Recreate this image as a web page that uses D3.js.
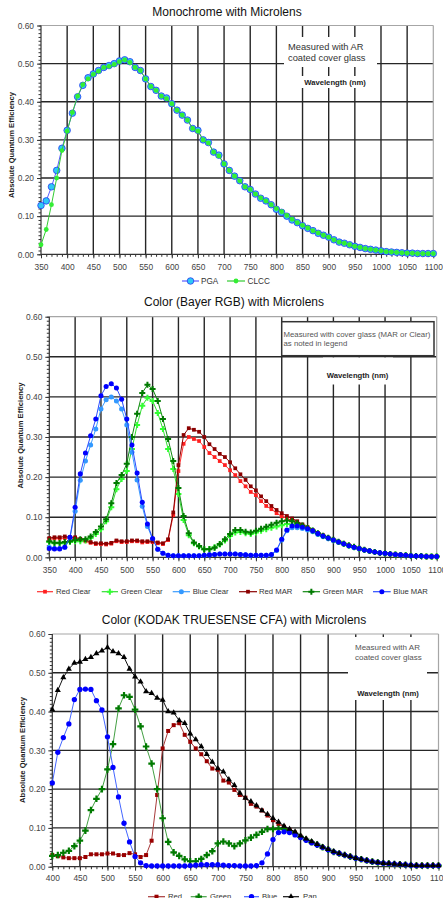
<!DOCTYPE html>
<meta charset="utf-8">
<script src="https://d3js.org/d3.v7.min.js"></script>
<style>
  body { margin: 0; background: #fff; }
  svg { display: block; font-family: "Liberation Sans", Arial, sans-serif; }
</style>
<body>
<div id="chart"></div>
<script>

// ---------- data ----------
// wavelength sampling (nm)
var monoWl = d3.range(350, 1101, 10);
var bayerWl = d3.range(350, 1101, 10);
var kodakWl = d3.range(400, 1101, 10);

var yTickValues = [0, 0.1, 0.2, 0.3, 0.4, 0.5, 0.6];

// Monochrome with Microlens
var pga = [
  0.128,0.140,0.177,0.220,0.278,0.325,0.370,0.413,0.443,0.463,
  0.473,0.482,0.490,0.495,0.500,0.507,0.510,0.505,0.490,0.482,
  0.460,0.440,0.430,0.415,0.410,0.395,0.378,0.365,0.352,0.330,
  0.325,0.300,0.293,0.268,0.260,0.237,0.220,0.205,0.193,0.177,
  0.170,0.158,0.147,0.140,0.130,0.118,0.110,0.100,0.090,0.083,
  0.075,0.068,0.062,0.055,0.050,0.045,0.038,0.032,0.029,0.025,
  0.021,0.018,0.015,0.013,0.011,0.009,0.007,0.006,0.005,0.004,
  0.003,0.003,0.002,0.002,0.002,0.002];
var clcc = [
  0.025,0.065,0.130,0.200,0.272,0.323,0.372,0.415,0.445,0.460,
  0.472,0.480,0.490,0.493,0.498,0.505,0.510,0.503,0.490,0.482,
  0.460,0.440,0.430,0.415,0.408,0.395,0.378,0.365,0.352,0.330,
  0.323,0.300,0.292,0.268,0.258,0.237,0.220,0.205,0.193,0.177,
  0.170,0.158,0.148,0.140,0.130,0.120,0.112,0.102,0.092,0.083,
  0.076,0.069,0.062,0.056,0.050,0.045,0.038,0.032,0.029,0.025,
  0.021,0.018,0.015,0.013,0.011,0.009,0.007,0.006,0.005,0.004,
  0.003,0.003,0.002,0.002,0.002,0.002];

// Color (Bayer RGB) with Microlens
var redClear = [
  0.045,0.047,0.047,0.048,0.047,0.047,0.043,0.040,0.036,0.033,
  0.033,0.032,0.034,0.040,0.038,0.038,0.040,0.040,0.037,0.038,
  0.038,0.035,0.033,0.043,0.105,0.215,0.283,0.300,0.295,0.290,
  0.275,0.260,0.250,0.240,0.230,0.217,0.205,0.190,0.177,0.163,
  0.155,0.140,0.128,0.120,0.110,0.102,0.097,0.092,0.086,0.080,
  0.073,0.066,0.059,0.053,0.048,0.043,0.038,0.034,0.029,0.025,
  0.022,0.018,0.016,0.013,0.011,0.010,0.008,0.007,0.006,0.005,
  0.004,0.003,0.003,0.002,0.002,0.002];
var greenClear = [
  0.038,0.035,0.035,0.035,0.038,0.040,0.040,0.042,0.048,0.058,
  0.070,0.090,0.125,0.170,0.195,0.215,0.270,0.330,0.378,0.398,
  0.390,0.360,0.320,0.270,0.220,0.158,0.093,0.055,0.035,0.027,
  0.020,0.021,0.025,0.032,0.042,0.053,0.062,0.063,0.060,0.058,
  0.062,0.066,0.070,0.074,0.077,0.080,0.083,0.082,0.080,0.076,
  0.072,0.066,0.059,0.053,0.048,0.043,0.038,0.034,0.029,0.025,
  0.022,0.018,0.016,0.013,0.011,0.010,0.008,0.007,0.006,0.005,
  0.004,0.003,0.003,0.002,0.002,0.002];
var blueClear = [
  0.025,0.022,0.022,0.025,0.048,0.115,0.192,0.240,0.280,0.320,
  0.370,0.393,0.400,0.390,0.370,0.330,0.262,0.193,0.127,0.077,
  0.045,0.020,0.010,0.005,0.004,0.004,0.004,0.004,0.004,0.004,
  0.005,0.006,0.007,0.008,0.008,0.008,0.008,0.007,0.006,0.005,
  0.005,0.005,0.005,0.006,0.017,0.043,0.066,0.074,0.074,0.072,
  0.068,0.064,0.057,0.051,0.046,0.041,0.037,0.033,0.028,0.024,
  0.021,0.018,0.015,0.013,0.011,0.009,0.008,0.007,0.006,0.005,
  0.004,0.003,0.003,0.002,0.002,0.002];
var redMAR = [
  0.048,0.050,0.050,0.052,0.050,0.050,0.046,0.043,0.038,0.035,
  0.035,0.034,0.036,0.042,0.040,0.040,0.042,0.042,0.040,0.040,
  0.040,0.037,0.035,0.045,0.112,0.230,0.305,0.322,0.318,0.313,
  0.300,0.282,0.270,0.258,0.250,0.237,0.222,0.207,0.193,0.177,
  0.167,0.152,0.140,0.128,0.118,0.110,0.103,0.097,0.090,0.082,
  0.075,0.068,0.061,0.055,0.049,0.044,0.039,0.034,0.030,0.026,
  0.022,0.019,0.016,0.013,0.011,0.010,0.008,0.007,0.006,0.005,
  0.004,0.003,0.003,0.002,0.002,0.002];
var greenMAR = [
  0.040,0.036,0.036,0.038,0.040,0.043,0.045,0.045,0.052,0.063,
  0.077,0.095,0.135,0.185,0.205,0.233,0.300,0.358,0.410,0.430,
  0.420,0.390,0.345,0.295,0.240,0.173,0.103,0.060,0.037,0.028,
  0.020,0.020,0.024,0.033,0.045,0.058,0.068,0.068,0.064,0.062,
  0.066,0.071,0.076,0.081,0.086,0.090,0.092,0.090,0.085,0.079,
  0.073,0.067,0.060,0.054,0.049,0.044,0.039,0.034,0.030,0.026,
  0.022,0.019,0.016,0.013,0.011,0.010,0.008,0.007,0.006,0.005,
  0.004,0.003,0.003,0.002,0.002,0.002];
var blueMAR = [
  0.022,0.021,0.021,0.025,0.050,0.125,0.208,0.260,0.303,0.345,
  0.403,0.426,0.433,0.422,0.394,0.345,0.280,0.210,0.137,0.083,
  0.047,0.020,0.010,0.005,0.004,0.004,0.004,0.004,0.004,0.004,
  0.005,0.006,0.007,0.008,0.008,0.008,0.008,0.007,0.006,0.005,
  0.005,0.005,0.005,0.007,0.018,0.045,0.068,0.078,0.078,0.075,
  0.071,0.066,0.059,0.053,0.048,0.043,0.038,0.034,0.029,0.025,
  0.022,0.018,0.016,0.013,0.011,0.010,0.008,0.007,0.006,0.005,
  0.004,0.003,0.003,0.002,0.002,0.002];

// Color (KODAK TRUESENSE CFA) with Microlens
var kRed = [
  0.030,0.027,0.024,0.022,0.022,0.022,0.025,0.032,0.032,0.032,
  0.034,0.034,0.030,0.030,0.035,0.032,0.025,0.030,0.067,0.185,
  0.305,0.350,0.365,0.370,0.340,0.322,0.305,0.290,0.272,0.253,
  0.250,0.222,0.217,0.198,0.185,0.178,0.162,0.155,0.145,0.132,
  0.120,0.110,0.103,0.095,0.088,0.078,0.070,0.063,0.057,0.050,
  0.044,0.038,0.034,0.030,0.026,0.022,0.019,0.016,0.013,0.011,
  0.009,0.008,0.007,0.006,0.005,0.004,0.003,0.003,0.003,0.003,
  0.003];
var kGreen = [
  0.028,0.030,0.036,0.041,0.053,0.067,0.093,0.146,0.175,0.200,
  0.251,0.316,0.408,0.442,0.438,0.405,0.362,0.310,0.266,0.200,
  0.125,0.064,0.037,0.028,0.019,0.014,0.014,0.020,0.030,0.040,
  0.060,0.065,0.060,0.053,0.060,0.068,0.075,0.082,0.090,0.097,
  0.097,0.098,0.097,0.092,0.085,0.077,0.070,0.063,0.057,0.050,
  0.044,0.038,0.034,0.030,0.026,0.022,0.019,0.016,0.013,0.011,
  0.009,0.008,0.007,0.006,0.005,0.004,0.003,0.003,0.003,0.003,
  0.003];
var kBlue = [
  0.216,0.295,0.333,0.368,0.431,0.457,0.458,0.457,0.428,0.404,
  0.335,0.256,0.180,0.112,0.064,0.026,0.010,0.003,0.002,0.002,
  0.002,0.002,0.002,0.002,0.002,0.003,0.004,0.005,0.005,0.005,
  0.005,0.004,0.003,0.003,0.002,0.002,0.002,0.003,0.010,0.033,
  0.070,0.088,0.090,0.088,0.082,0.075,0.068,0.062,0.056,0.050,
  0.044,0.038,0.034,0.030,0.026,0.022,0.019,0.016,0.013,0.011,
  0.009,0.008,0.007,0.006,0.005,0.004,0.003,0.003,0.003,0.003,
  0.003];
var kPan = [
  0.405,0.455,0.488,0.510,0.525,0.528,0.535,0.540,0.550,0.557,
  0.565,0.555,0.550,0.540,0.510,0.490,0.477,0.452,0.447,0.435,
  0.430,0.400,0.397,0.377,0.370,0.343,0.328,0.310,0.290,0.270,
  0.253,0.245,0.225,0.210,0.190,0.177,0.168,0.158,0.145,0.135,
  0.125,0.115,0.105,0.097,0.090,0.080,0.072,0.065,0.058,0.051,
  0.045,0.039,0.034,0.030,0.026,0.022,0.019,0.016,0.013,0.011,
  0.009,0.008,0.007,0.006,0.005,0.004,0.003,0.003,0.003,0.003,
  0.003];

// ---------- drawing ----------
var svg = d3.select("#chart").append("svg")
  .attr("width", 443)
  .attr("height", 898);

function drawPanel(p) {
  var x = d3.scaleLinear().domain(p.xDomain).range([p.left, p.right]);
  var y = d3.scaleLinear().domain([0, 0.6]).range([p.bottom, p.top]);
  var g = svg.append("g");

  // title
  g.append("text")
    .attr("x", p.titleX).attr("y", p.titleY)
    .attr("text-anchor", "middle")
    .attr("font-size", 12)
    .attr("fill", "#111")
    .text(p.title);

  // y axis title
  g.append("text")
    .attr("transform", "translate(" + p.yTitleX + "," + p.yTitleY + ") rotate(-90)")
    .attr("text-anchor", "middle")
    .attr("dy", "0.35em")
    .attr("font-size", 7.6)
    .attr("font-weight", "bold")
    .attr("fill", "#222")
    .text("Absolute Quantum Efficiency");

  // grid lines
  g.append("g").selectAll("line")
    .data(p.xTicks.slice(1, -1))
    .join("line")
      .attr("x1", function(d) { return x(d); })
      .attr("x2", function(d) { return x(d); })
      .attr("y1", p.top).attr("y2", p.bottom)
      .attr("stroke", "#262626").attr("stroke-width", 1.4);
  g.append("g").selectAll("line")
    .data(yTickValues.slice(1, -1))
    .join("line")
      .attr("x1", p.left).attr("x2", p.right)
      .attr("y1", function(d) { return y(d); })
      .attr("y2", function(d) { return y(d); })
      .attr("stroke", "#262626").attr("stroke-width", 1.4);

  // frame (top / right light, left / bottom dark)
  g.append("line").attr("x1", p.left).attr("x2", p.right).attr("y1", p.top).attr("y2", p.top)
    .attr("stroke", "#a6a6a6").attr("stroke-width", 1.2);
  g.append("line").attr("x1", p.right).attr("x2", p.right).attr("y1", p.top).attr("y2", p.bottom)
    .attr("stroke", "#a6a6a6").attr("stroke-width", 1.2);

  // note boxes (white, covering the grid)
  p.boxes.forEach(function(b) {
    g.append("rect")
      .attr("x", b.x).attr("y", b.y).attr("width", b.w).attr("height", b.h)
      .attr("fill", "#fff")
      .attr("stroke", b.stroke || "none")
      .attr("stroke-width", 1.5);
  });
  p.notes.forEach(function(n) {
    g.append("text")
      .attr("x", n.x).attr("y", n.y)
      .attr("text-anchor", n.anchor || "start")
      .attr("font-size", n.size)
      .attr("font-weight", n.bold ? "bold" : "normal")
      .attr("fill", n.fill || "#333")
      .text(n.text);
  });

  // axes
  var xa = g.append("g")
    .attr("transform", "translate(0," + p.bottom + ")")
    .call(d3.axisBottom(x).tickValues(p.xTicks).tickSize(4).tickPadding(p.xPad).tickFormat(d3.format("d")));
  xa.attr("font-size", 8.4).attr("font-family", null);
  xa.select(".domain").remove();
  xa.selectAll("line").attr("stroke", "#333");
  xa.selectAll("text").attr("fill", "#444");

  var xm = g.append("g")
    .attr("transform", "translate(0," + p.bottom + ")")
    .call(d3.axisBottom(x).tickValues(p.xMinor).tickSize(2.5).tickFormat(""));
  xm.select(".domain").remove();
  xm.selectAll("line").attr("stroke", "#333");

  var ya = g.append("g")
    .attr("transform", "translate(" + p.left + ",0)")
    .call(d3.axisLeft(y).tickValues(yTickValues).tickSize(4).tickPadding(3).tickFormat(d3.format(".2f")));
  ya.attr("font-size", 8.4).attr("font-family", null);
  ya.select(".domain").remove();
  ya.selectAll("line").attr("stroke", "#333");
  ya.selectAll("text").attr("fill", "#444");

  var ym = g.append("g")
    .attr("transform", "translate(" + p.left + ",0)")
    .call(d3.axisLeft(y).tickValues(d3.range(0, 0.6001, 0.01)).tickSize(2.5).tickFormat(""));
  ym.select(".domain").remove();
  ym.selectAll("line").attr("stroke", "#333");

  g.append("line").attr("x1", p.left).attr("x2", p.right).attr("y1", p.bottom).attr("y2", p.bottom)
    .attr("stroke", "#333").attr("stroke-width", 1.2);
  g.append("line").attr("x1", p.left).attr("x2", p.left).attr("y1", p.top).attr("y2", p.bottom)
    .attr("stroke", "#333").attr("stroke-width", 1.2);

  // series
  var line = d3.line()
    .x(function(d) { return x(d[0]); })
    .y(function(d) { return y(d[1]); });

  p.series.forEach(function(s) {
    var pts = s.values.map(function(v, i) { return [p.wl[i], v]; });
    g.append("path")
      .datum(pts)
      .attr("fill", "none")
      .attr("stroke", s.line)
      .attr("stroke-width", 1)
      .attr("d", line);
    g.append("g").selectAll("path")
      .data(pts)
      .join("path")
        .attr("transform", function(d) { return "translate(" + x(d[0]) + "," + y(d[1]) + ")"; })
        .attr("d", d3.symbol().type(s.symbol).size(s.size))
        .attr("fill", s.fill)
        .attr("stroke", s.stroke || "none")
        .attr("stroke-width", 0.8);
  });

  // legend
  p.legend.forEach(function(l) {
    var s = p.series[l.i];
    g.append("line")
      .attr("x1", l.x1).attr("x2", l.x2).attr("y1", p.legendY).attr("y2", p.legendY)
      .attr("stroke", s.line).attr("stroke-width", 1.2);
    g.append("path")
      .attr("transform", "translate(" + ((l.x1 + l.x2) / 2) + "," + p.legendY + ")")
      .attr("d", d3.symbol().type(s.symbol).size(s.size))
      .attr("fill", s.fill)
      .attr("stroke", s.stroke || "none")
      .attr("stroke-width", 0.8);
    g.append("text")
      .attr("x", l.tx).attr("y", p.legendY)
      .attr("dy", "0.35em")
      .attr("font-size", p.legendSize)
      .attr("fill", "#333")
      .text(s.name);
  });
}

// panel 1
drawPanel({
  title: "Monochrome with Microlens", titleX: 227, titleY: 16.3,
  xDomain: [350, 1100], left: 41, right: 433.3, top: 25.5, bottom: 254.3,
  xTicks: d3.range(350, 1101, 50), xMinor: d3.range(350, 1101, 10), xPad: 5.4,
  yTitleX: 11, yTitleY: 145,
  wl: monoWl,
  series: [
    { name: "PGA", values: pga, line: "#5a5aff", fill: "#2ec8f5", stroke: "#2a3cf0", symbol: d3.symbolCircle, size: 34 },
    { name: "CLCC", values: clcc, line: "#33cc33", fill: "#33ee33", symbol: d3.symbolCircle, size: 18 }
  ],
  boxes: [ { x: 284, y: 37, w: 93, h: 30 }, { x: 298, y: 76, w: 74, h: 12 } ],
  notes: [
    { x: 288, y: 49.5, text: "Measured with AR", size: 9.3 },
    { x: 288, y: 60.8, text: "coated cover glass", size: 9.3 },
    { x: 335, y: 84.5, text: "Wavelength (nm)", size: 7.7, bold: true, anchor: "middle", fill: "#222" }
  ],
  legendY: 281, legendSize: 8.2,
  legend: [ { i: 0, x1: 182, x2: 199, tx: 201 }, { i: 1, x1: 227, x2: 245, tx: 247.5 } ]
});

// panel 2
drawPanel({
  title: "Color (Bayer RGB) with Microlens", titleX: 234, titleY: 306,
  xDomain: [350, 1100], left: 49.3, right: 436.7, top: 316.7, bottom: 557.3,
  xTicks: d3.range(350, 1101, 50), xMinor: d3.range(350, 1101, 10), xPad: 5.7,
  yTitleX: 20, yTitleY: 435.5,
  wl: bayerWl,
  series: [
    { name: "Red Clear", values: redClear, line: "#ff3030", fill: "#ff2020", symbol: d3.symbolSquare, size: 14 },
    { name: "Green Clear", values: greenClear, line: "#33dd33", fill: "#33ff33", symbol: d3.symbolCross, size: 20 },
    { name: "Blue Clear", values: blueClear, line: "#3a9cff", fill: "#3399ff", symbol: d3.symbolCircle, size: 20 },
    { name: "Red MAR", values: redMAR, line: "#8b0000", fill: "#8b0000", symbol: d3.symbolSquare, size: 14 },
    { name: "Green MAR", values: greenMAR, line: "#118811", fill: "#007a00", symbol: d3.symbolCross, size: 20 },
    { name: "Blue MAR", values: blueMAR, line: "#2a4cff", fill: "#0000ff", symbol: d3.symbolCircle, size: 20 }
  ],
  boxes: [ { x: 281.7, y: 321.7, w: 152.3, h: 34, stroke: "#333" }, { x: 323, y: 357.5, w: 70, h: 27 } ],
  notes: [
    { x: 283.5, y: 337.1, text: "Measured with cover glass (MAR or Clear)", size: 7.8, fill: "#555" },
    { x: 283.5, y: 346.1, text: "as noted in legend", size: 7.8, fill: "#555" },
    { x: 357.5, y: 377.8, text: "Wavelength (nm)", size: 7.7, bold: true, anchor: "middle", fill: "#222" }
  ],
  legendY: 591.7, legendSize: 7.7,
  legend: [
    { i: 0, x1: 37, x2: 53, tx: 56 },
    { i: 1, x1: 101.7, x2: 118, tx: 120.7 },
    { i: 2, x1: 172.7, x2: 190, tx: 192.7 },
    { i: 3, x1: 239, x2: 257, tx: 259 },
    { i: 4, x1: 302.7, x2: 320, tx: 322.7 },
    { i: 5, x1: 373, x2: 390.7, tx: 393.3 }
  ]
});

// panel 3
drawPanel({
  title: "Color (KODAK TRUESENSE CFA) with Microlens", titleX: 234, titleY: 623.6,
  xDomain: [400, 1100], left: 52.3, right: 438.5, top: 634, bottom: 866.7,
  xTicks: d3.range(400, 1101, 50), xMinor: d3.range(400, 1101, 10), xPad: 4.6,
  yTitleX: 22, yTitleY: 750,
  wl: kodakWl,
  series: [
    { name: "Red", values: kRed, line: "#a83a3a", fill: "#990000", symbol: d3.symbolSquare, size: 16 },
    { name: "Green", values: kGreen, line: "#44a044", fill: "#007a00", symbol: d3.symbolCross, size: 24 },
    { name: "Blue", values: kBlue, line: "#4466ff", fill: "#0000ff", symbol: d3.symbolCircle, size: 22 },
    { name: "Pan", values: kPan, line: "#111", fill: "#000", symbol: d3.symbolTriangle, size: 16 }
  ],
  boxes: [ { x: 348, y: 637, w: 79, h: 63 } ],
  notes: [
    { x: 355, y: 649.6, text: "Measured with AR", size: 8, fill: "#555" },
    { x: 355, y: 659.6, text: "coated cover glass", size: 8, fill: "#555" },
    { x: 388, y: 695.5, text: "Wavelength (nm)", size: 7.7, bold: true, anchor: "middle", fill: "#222" }
  ],
  legendY: 896.7, legendSize: 7.7,
  legend: [
    { i: 0, x1: 148, x2: 165, tx: 168 },
    { i: 1, x1: 190.7, x2: 206.7, tx: 210 },
    { i: 2, x1: 244, x2: 259, tx: 262 },
    { i: 3, x1: 283, x2: 299, tx: 303 }
  ]
});

</script>
</body>
